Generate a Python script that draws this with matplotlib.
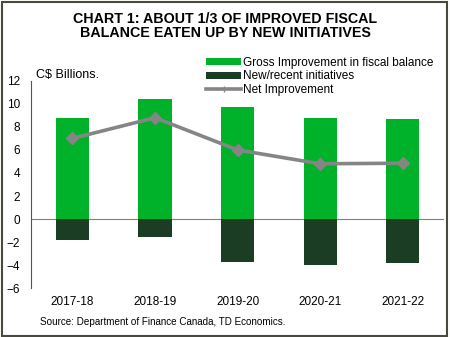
import numpy as np
import matplotlib.pyplot as plt
from matplotlib.lines import Line2D

plt.rcParams['font.family'] = ['Liberation Sans', 'DejaVu Sans']

years = ['2017-18', '2018-19', '2019-20', '2020-21', '2021-22']
gross = [8.8, 10.4, 9.7, 8.8, 8.65]
new_init = [-1.8, -1.6, -3.7, -4.0, -3.8]
net = [7.0, 8.8, 6.0, 4.8, 4.85]

fig = plt.figure(figsize=(4.5, 3.37), dpi=100)
ax = fig.add_axes([0.069, 0.145, 0.918, 0.615])

x = np.arange(len(years))
b1 = ax.bar(x, gross, width=0.4, color='#00b22a', zorder=2)
b2 = ax.bar(x, new_init, width=0.4, color='#1a3d24', zorder=2)
ax.plot(x, net, color='#858585', lw=2.6, marker='D', ms=6, zorder=3)
ax.axhline(0, color='#7f7f7f', lw=0.8, zorder=1)

ax.set_xlim(-0.5, 4.5)
ax.set_ylim(-6, 12)
ax.set_yticks(range(-6, 13, 2))
ax.set_xticks(x)
ax.set_xticklabels(years)
ax.tick_params(axis='both', length=0, labelsize=8.5, colors='black')
ax.tick_params(axis='y', pad=8)
ax.tick_params(axis='x', pad=6)
for s in ['top', 'right', 'bottom']:
    ax.spines[s].set_visible(False)
ax.spines['left'].set_color('#555555')
ax.spines['left'].set_linewidth(0.8)

net_handle = Line2D([], [], color='#858585', lw=2.6, marker='|', ms=4, mew=1)
ax.legend([b1, b2, net_handle],
          ['Gross Improvement in fiscal balance', 'New/recent initiatives', 'Net Improvement'],
          loc='upper left', bbox_to_anchor=(0.413, 1.14), frameon=False, fontsize=8.5,
          handlelength=2.9, handleheight=0.5, labelspacing=0.15, handletextpad=0.2,
          borderaxespad=0)

fig.text(0.08, 0.77, 'C$ Billions.', fontsize=9)
fig.text(0.5, 0.965, 'CHART 1: ABOUT 1/3 OF IMPROVED FISCAL\nBALANCE EATEN UP BY NEW INITIATIVES',
         ha='center', va='top', fontsize=10.3, fontweight='bold', linespacing=1.05)
fig.text(0.09, 0.035, 'Source: Department of Finance Canada, TD Economics.', fontsize=7.1)

fig.patches.append(plt.Rectangle((0.004, 0.004), 0.99, 0.99, transform=fig.transFigure,
                                 fill=False, edgecolor='#4a4a3a', lw=1.5))

fig.savefig('out.png', dpi=100)
